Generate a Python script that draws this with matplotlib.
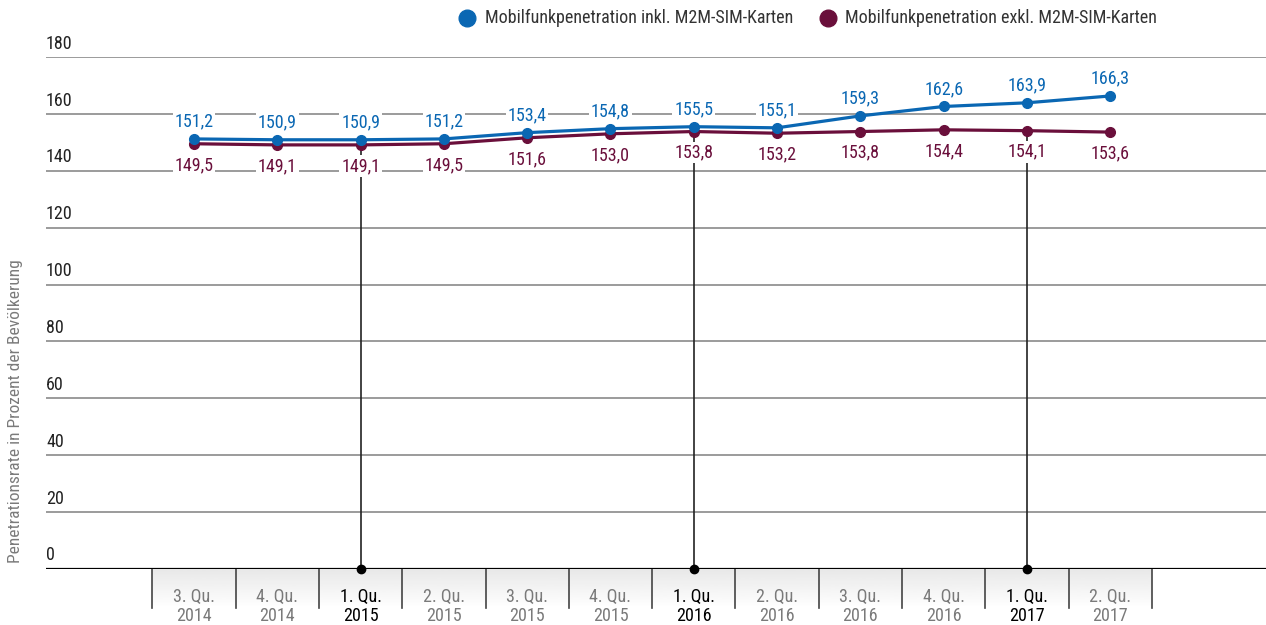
import numpy as np
import matplotlib
matplotlib.use("Agg")
import matplotlib.pyplot as plt
from matplotlib import font_manager
from matplotlib.lines import Line2D

# Daten
quartale = ["3. Qu.", "4. Qu.", "1. Qu.", "2. Qu.", "3. Qu.", "4. Qu.",
            "1. Qu.", "2. Qu.", "3. Qu.", "4. Qu.", "1. Qu.", "2. Qu."]
jahre = ["2014", "2014", "2015", "2015", "2015", "2015",
         "2016", "2016", "2016", "2016", "2017", "2017"]
inkl_m2m = [151.2, 150.9, 150.9, 151.2, 153.4, 154.8, 155.5, 155.1, 159.3, 162.6, 163.9, 166.3]
exkl_m2m = [149.5, 149.1, 149.1, 149.5, 151.6, 153.0, 153.8, 153.2, 153.8, 154.4, 154.1, 153.6]
y_ticks = [0, 20, 40, 60, 80, 100, 120, 140, 160, 180]

BLAU = "#0a67b3"
ROT = "#6a0f3b"

# Schrift: schmale Schrift wenn vorhanden
vorhanden = {f.name for f in font_manager.fontManager.ttflist}
for name in ["Liberation Sans Narrow", "Roboto Condensed", "Roboto", "DejaVu Sans"]:
    if name in vorhanden:
        plt.rcParams["font.family"] = [name, "DejaVu Sans"]
        break

FS = 13

W, H = 1266, 625
fig = plt.figure(figsize=(W / 100, H / 100), dpi=100)
ax = fig.add_axes([46 / W, (H - 569) / H, 1 - 46 / W, (569 - 57) / H])
x = np.arange(len(inkl_m2m))

# Gitterlinien und Achsenbeschriftung
for y in y_ticks[1:]:
    ax.axhline(y, color="#8a8a8a", lw=1.2, zorder=1)
    ax.annotate(str(y), xy=(0, y), xycoords=("axes fraction", "data"),
                xytext=(0, 6), textcoords="offset points", ha="left", va="baseline",
                fontsize=FS, color="#222222")
ax.annotate("0", xy=(0, 0), xycoords=("axes fraction", "data"),
            xytext=(0, 6.5), textcoords="offset points", ha="left", va="baseline",
            fontsize=FS, color="#222222")
ax.axhline(0, color="black", lw=1.6, zorder=3)

# Kategorie-Kästen unten mit Verlauf
grad = np.linspace(0.91, 1.0, 50).reshape(-1, 1)
ax.imshow(grad, extent=(-0.5, len(x) - 0.5, -13.7, 0), aspect="auto", cmap="gray",
          vmin=0, vmax=1, clip_on=False, zorder=0)
for b in np.arange(-0.5, len(x), 1.0):
    ax.plot([b, b], [0, -13.7], color="#444444", lw=1.2, clip_on=False, zorder=2)

for i, (q, j) in enumerate(zip(quartale, jahre)):
    farbe = "black" if q.startswith("1.") else "#7a7a7a"
    ax.annotate(q, xy=(i, 0), xycoords="data", xytext=(0, -19.8), textcoords="offset points",
                ha="center", va="center", fontsize=FS, color=farbe, annotation_clip=False)
    ax.annotate(j, xy=(i, 0), xycoords="data", xytext=(0, -33.8), textcoords="offset points",
                ha="center", va="center", fontsize=FS, color=farbe, annotation_clip=False)
    # Jahresmarkierung
    if q.startswith("1."):
        ax.plot([i, i], [0, exkl_m2m[i]], color="#222222", lw=1.2, zorder=2)
        ax.plot(i, 0, "o", color="black", ms=6, clip_on=False, zorder=6)

# Linien
ax.plot(x, exkl_m2m, color=ROT, lw=2.3, marker="o", ms=7, zorder=4)
ax.plot(x, inkl_m2m, color=BLAU, lw=2.3, marker="o", ms=7, zorder=4)

box = dict(boxstyle="square,pad=0.1", fc="white", ec="none")
for i in x:
    ax.annotate(f"{inkl_m2m[i]:.1f}".replace(".", ","), (i, inkl_m2m[i]), xytext=(0, 12.5),
                textcoords="offset points", ha="center", va="center", fontsize=FS,
                color=BLAU, bbox=box, zorder=5)
    ax.annotate(f"{exkl_m2m[i]:.1f}".replace(".", ","), (i, exkl_m2m[i]), xytext=(0, -15.2),
                textcoords="offset points", ha="center", va="center", fontsize=FS,
                color=ROT, bbox=box, zorder=5)

ax.set_xlim(-1.777, 12.87)
ax.set_ylim(0, 180)
ax.axis("off")

# Legende
fig.add_artist(Line2D([467 / W], [1 - 18 / H], transform=fig.transFigure, marker="o",
                      ms=12, color=BLAU, ls=""))
fig.text(485 / W, 1 - 18 / H, "Mobilfunkpenetration inkl. M2M-SIM-Karten",
         ha="left", va="center", fontsize=FS, color="#333333")
fig.add_artist(Line2D([828 / W], [1 - 18 / H], transform=fig.transFigure, marker="o",
                      ms=12, color=ROT, ls=""))
fig.text(845 / W, 1 - 18 / H, "Mobilfunkpenetration exkl. M2M-SIM-Karten",
         ha="left", va="center", fontsize=FS, color="#333333")

fig.text(16 / W, 1 - 411 / H, "Penetrationsrate in Prozent der Bevölkerung", rotation=90,
         ha="center", va="center", fontsize=12.5, color="#7a7a7a")

fig.savefig("out.png", dpi=100)
